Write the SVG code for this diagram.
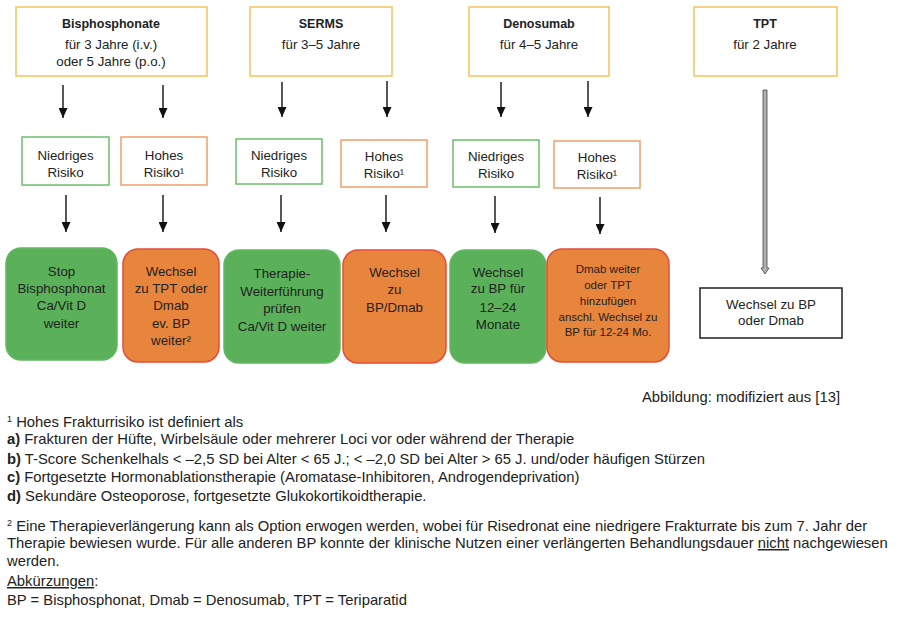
<svg xmlns="http://www.w3.org/2000/svg" width="900" height="621" viewBox="0 0 900 621">
<defs>
<style>
.top{fill:#fff;stroke:#f3c45a;stroke-width:1.5}
.lowb{fill:#fff;stroke:#6cbf6c;stroke-width:1.5}
.highb{fill:#fff;stroke:#f0a06a;stroke-width:1.5}
.gr{fill:#5ab15a;stroke:#62b862;stroke-width:1.5}
.or{fill:#e8853c;stroke:#e64b37;stroke-width:1.5}
.wb{fill:#fff;stroke:#222;stroke-width:1.5}
text{font-family:"Liberation Sans",Arial,sans-serif;fill:#222}
.c{text-anchor:middle;font-size:13.3px}
.cb{text-anchor:middle;font-size:12.5px;font-weight:bold}
.s{text-anchor:middle;font-size:11.5px}
.f{font-size:14.8px}
.arr{stroke:#111;stroke-width:1.4;fill:none;marker-end:url(#ah)}
</style>
<marker id="ah" markerUnits="userSpaceOnUse" markerWidth="10" markerHeight="9" refX="10" refY="4.5" orient="auto">
<path d="M0,0 L10,4.5 L0,9 z" fill="#111"/>
</marker>
</defs>
<rect width="900" height="621" fill="#fff"/>

<g id="connectors">
<line class="arr" x1="63" y1="85" x2="63" y2="118"/>
<line class="arr" x1="163" y1="85" x2="163" y2="118"/>
<line class="arr" x1="282" y1="82" x2="282" y2="117"/>
<line class="arr" x1="387" y1="81" x2="387" y2="117"/>
<line class="arr" x1="501" y1="82" x2="501" y2="117"/>
<line class="arr" x1="588" y1="81" x2="588" y2="117"/>
<line class="arr" x1="66" y1="195" x2="66" y2="232"/>
<line class="arr" x1="163" y1="195" x2="163" y2="232"/>
<line class="arr" x1="281" y1="195" x2="281" y2="232"/>
<line class="arr" x1="386" y1="195" x2="386" y2="232"/>
<line class="arr" x1="495" y1="196" x2="495" y2="233"/>
<line class="arr" x1="600" y1="197" x2="600" y2="234"/>
<path d="M763,90 L767,90 L767,268 L769,268 L765,274 L761,268 L763,268 Z" fill="#b0b0b0" stroke="#444" stroke-width="0.8"/>
</g>

<g id="bisphosphonate">
<rect class="top" x="16" y="7" width="191" height="69"/>
<text class="cb" x="111" y="28">Bisphosphonate</text>
<text class="c" x="111" y="49">für 3 Jahre (i.v.)</text>
<text class="c" x="111" y="66">oder 5 Jahre (p.o.)</text>
</g>
<g id="serms">
<rect class="top" x="250" y="7" width="142" height="69"/>
<text class="cb" x="321" y="28">SERMS</text>
<text class="c" x="321" y="49">für 3–5 Jahre</text>
</g>
<g id="denosumab">
<rect class="top" x="469" y="7" width="140" height="69"/>
<text class="cb" x="539" y="28">Denosumab</text>
<text class="c" x="539" y="49">für 4–5 Jahre</text>
</g>
<g id="tpt">
<rect class="top" x="694" y="7" width="143" height="69"/>
<text class="cb" x="765" y="28">TPT</text>
<text class="c" x="765" y="49">für 2 Jahre</text>
</g>

<g id="bp-niedrig">
<rect class="lowb" x="22" y="137" width="87" height="48"/>
<text class="c" x="65.5" y="160">Niedriges</text>
<text class="c" x="65.5" y="177">Risiko</text>
</g>
<g id="bp-hoch">
<rect class="highb" x="121" y="137" width="86" height="48"/>
<text class="c" x="164" y="160">Hohes</text>
<text class="c" x="164" y="177">Risiko¹</text>
</g>
<g id="serms-niedrig">
<rect class="lowb" x="236" y="139" width="86" height="45"/>
<text class="c" x="279" y="160">Niedriges</text>
<text class="c" x="279" y="177">Risiko</text>
</g>
<g id="serms-hoch">
<rect class="highb" x="341" y="140" width="86" height="47"/>
<text class="c" x="384" y="161">Hohes</text>
<text class="c" x="384" y="178">Risiko¹</text>
</g>
<g id="dmab-niedrig">
<rect class="lowb" x="453" y="140" width="86" height="47"/>
<text class="c" x="496" y="161">Niedriges</text>
<text class="c" x="496" y="178">Risiko</text>
</g>
<g id="dmab-hoch">
<rect class="highb" x="554" y="141" width="86" height="47"/>
<text class="c" x="597" y="162">Hohes</text>
<text class="c" x="597" y="179">Risiko¹</text>
</g>

<g id="bp-stop">
<rect class="gr" x="6" y="248" width="111" height="112" rx="15"/>
<text class="c" x="61.5" y="276">Stop</text>
<text class="c" x="61.5" y="293">Bisphosphonat</text>
<text class="c" x="61.5" y="310">Ca/Vit D</text>
<text class="c" x="61.5" y="328">weiter</text>
</g>
<g id="bp-wechsel">
<rect class="or" x="123" y="249" width="96" height="113" rx="15"/>
<text class="c" x="171" y="276">Wechsel</text>
<text class="c" x="171" y="293">zu TPT oder</text>
<text class="c" x="171" y="310">Dmab</text>
<text class="c" x="171" y="328">ev. BP</text>
<text class="c" x="171" y="345">weiter²</text>
</g>
<g id="serms-pruefen">
<rect class="gr" x="224" y="250" width="116" height="113" rx="15"/>
<text class="c" x="282" y="278">Therapie-</text>
<text class="c" x="282" y="296">Weiterführung</text>
<text class="c" x="282" y="313">prüfen</text>
<text class="c" x="282" y="331">Ca/Vit D weiter</text>
</g>
<g id="serms-wechsel">
<rect class="or" x="343" y="250" width="103" height="113" rx="15"/>
<text class="c" x="394.5" y="277">Wechsel</text>
<text class="c" x="394.5" y="294">zu</text>
<text class="c" x="394.5" y="312">BP/Dmab</text>
</g>
<g id="dmab-wechsel">
<rect class="gr" x="450" y="250" width="96" height="113" rx="15"/>
<text class="c" x="498" y="277">Wechsel</text>
<text class="c" x="498" y="293">zu BP für</text>
<text class="c" x="498" y="312">12–24</text>
<text class="c" x="498" y="329">Monate</text>
</g>
<g id="dmab-weiter">
<rect class="or" x="547" y="249" width="122" height="113" rx="15"/>
<text class="s" x="608" y="273">Dmab weiter</text>
<text class="s" x="608" y="289">oder TPT</text>
<text class="s" x="608" y="305">hinzufügen</text>
<text class="s" x="608" y="321">anschl. Wechsel zu</text>
<text class="s" x="608" y="336">BP für 12-24 Mo.</text>
</g>
<g id="tpt-wechsel">
<rect class="wb" x="700" y="288" width="142" height="50"/>
<text class="c" x="771" y="309">Wechsel zu BP</text>
<text class="c" x="771" y="325">oder Dmab</text>
</g>

<g id="notes">
<text class="f" x="642" y="402" textLength="198" lengthAdjust="spacingAndGlyphs">Abbildung: modifiziert aus [13]</text>
<text class="f" x="7" y="427"><tspan font-size="9" dy="-5">1</tspan><tspan dy="5"> Hohes Frakturrisiko ist definiert als</tspan></text>
<text class="f" x="7" y="444"><tspan font-weight="bold">a)</tspan> Frakturen der Hüfte, Wirbelsäule oder mehrerer Loci vor oder während der Therapie</text>
<text class="f" x="7" y="464"><tspan font-weight="bold">b)</tspan> T-Score Schenkelhals &lt; –2,5 SD bei Alter &lt; 65 J.; &lt; –2,0 SD bei Alter &gt; 65 J. und/oder häufigen Stürzen</text>
<text class="f" x="7" y="482"><tspan font-weight="bold">c)</tspan> Fortgesetzte Hormonablationstherapie (Aromatase-Inhibitoren, Androgendeprivation)</text>
<text class="f" x="7" y="501"><tspan font-weight="bold">d)</tspan> Sekundäre Osteoporose, fortgesetzte Glukokortikoidtherapie.</text>
<text class="f" x="7" y="531"><tspan font-size="9" dy="-5">2</tspan><tspan dy="5"> Eine Therapieverlängerung kann als Option erwogen werden, wobei für Risedronat eine niedrigere Frakturrate bis zum 7. Jahr der</tspan></text>
<text class="f" x="7" y="548">Therapie bewiesen wurde. Für alle anderen BP konnte der klinische Nutzen einer verlängerten Behandlungsdauer <tspan text-decoration="underline">nicht</tspan> nachgewiesen</text>
<text class="f" x="7" y="566">werden.</text>
<text class="f" x="7" y="586"><tspan text-decoration="underline">Abkürzungen</tspan>:</text>
<text class="f" x="7" y="605">BP = Bisphosphonat, Dmab = Denosumab, TPT = Teriparatid</text>
</g>
</svg>
